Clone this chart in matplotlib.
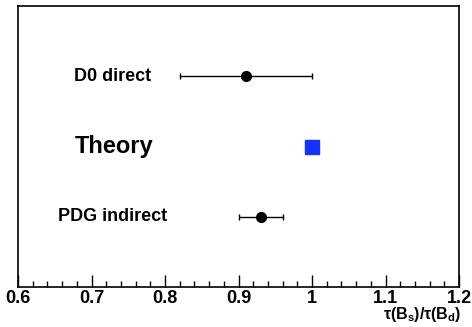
import matplotlib
matplotlib.use('Agg')
import matplotlib.pyplot as plt
from matplotlib.ticker import MultipleLocator

# measurements of tau(Bs)/tau(Bd)
labels = ['D0 direct', 'Theory', 'PDG indirect']
values = [0.91, 1.00, 0.93]
errors = [0.09, 0.0, 0.03]
ypos = [3, 2, 1]
label_x = [0.676, 0.677, 0.654]
label_size = [13, 17, 13]
ticks = [0.6, 0.7, 0.8, 0.9, 1.0, 1.1, 1.2]
tick_labels = ['0.6', '0.7', '0.8', '0.9', '1', '1.1', '1.2']

plt.rcParams['font.family'] = ['Liberation Sans', 'DejaVu Sans']
plt.rcParams['mathtext.fontset'] = 'custom'
plt.rcParams['mathtext.rm'] = 'Liberation Sans:bold'
plt.rcParams['mathtext.bf'] = 'Liberation Sans:bold'
plt.rcParams['mathtext.it'] = 'Liberation Sans:bold'

fig = plt.figure(figsize=(4.72, 3.27), dpi=100)
ax = fig.add_axes([18/472, 1 - 287/327, 441/472, 281/327])

for i in [0, 2]:
    ax.errorbar(values[i], ypos[i], xerr=errors[i], fmt='o', color='black',
                ms=7, elinewidth=1, capsize=2, capthick=1)
ax.plot(values[1], ypos[1], 's', color='#1433ff', ms=10.5)

for lab, x, y, s in zip(labels, label_x, ypos, label_size):
    ax.text(x, y, lab, fontsize=s, fontweight='bold', va='center', ha='left')

ax.set_xlim(0.6, 1.2)
ax.set_ylim(0, 4)
ax.set_yticks([])
ax.xaxis.set_minor_locator(MultipleLocator(0.02))
ax.set_xticks(ticks)
ax.set_xticklabels(tick_labels, fontweight='bold', fontsize=13)
ax.tick_params(axis='x', which='major', direction='in', length=9, width=1, pad=2)
ax.tick_params(axis='x', which='minor', direction='in', length=4.5, width=1)
for sp in ax.spines.values():
    sp.set_linewidth(1.2)

fig.text(461/472, 1 - 314/327, r'$\tau(B_s)/\tau(B_d)$', fontsize=11.5, ha='right', va='center')

fig.savefig('out.png', dpi=100)
